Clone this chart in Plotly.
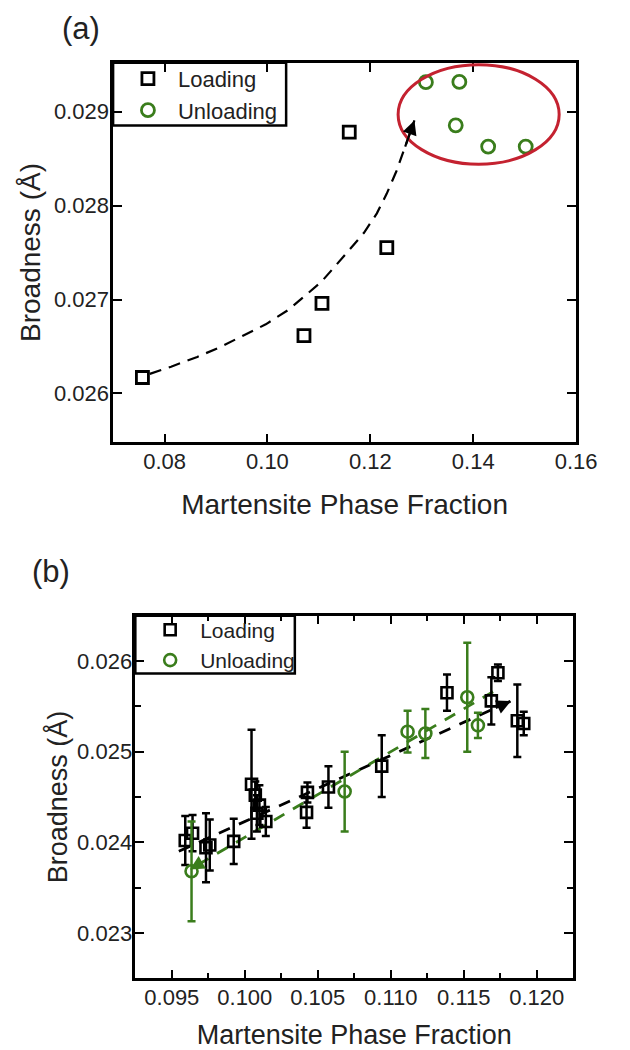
import plotly.graph_objects as go

GREEN = "#3a7d1c"
RED = "#c42230"
FONT = "Liberation Sans, Arial, sans-serif"
W, H = 630, 1050

# ---------------- panel (a) data ----------------
a_load_x = [0.0757, 0.1071, 0.1106, 0.1159, 0.1232]
a_load_y = [0.02617, 0.026615, 0.026958, 0.028781, 0.027552]
a_unload_x = [0.1308, 0.1373, 0.1366, 0.1429, 0.1502]
a_unload_y = [0.029313, 0.029316, 0.028854, 0.028628, 0.028628]
a_fit_x = [0.07714, 0.08127, 0.08635, 0.09079, 0.09524, 0.09968, 0.10413, 0.10794,
           0.11048, 0.11492, 0.11873, 0.12127, 0.12317, 0.12508, 0.12667, 0.12794, 0.12857]
a_fit_y = [0.026208, 0.026285, 0.026389, 0.026493, 0.026615, 0.026736, 0.026892, 0.027066,
           0.027188, 0.027465, 0.027708, 0.027917, 0.028125, 0.028368, 0.028611, 0.028819, 0.028906]
a_ellipse_x = [0.1254, 0.1567]
a_ellipse_y = [0.02844, 0.02950]

# ---------------- panel (b) data ----------------
b_load_x = [0.09592, 0.09642, 0.09734, 0.09760, 0.09924, 0.10046, 0.10072, 0.10100, 0.10083,
            0.10144, 0.10429, 0.10423, 0.10573, 0.10938, 0.11385, 0.11734, 0.11689, 0.11867, 0.11911]
b_load_y = [0.02402, 0.02410, 0.02394, 0.02397, 0.02401, 0.02464, 0.02452, 0.02441, 0.02432,
            0.02423, 0.02455, 0.02433, 0.02461, 0.02484, 0.02565, 0.02587, 0.02556, 0.02534, 0.02531]
b_load_err = [0.00027, 0.00020, 0.00038, 0.00028, 0.00025, 0.00060, 0.00015, 0.00022, 0.00020,
              0.00016, 0.00011, 0.00017, 0.00023, 0.00034, 0.00020, 0.00009, 0.00026, 0.00040, 0.00013]
b_unload_x = [0.09635, 0.10684, 0.11115, 0.11237, 0.11524, 0.11597]
b_unload_y = [0.02368, 0.02456, 0.02522, 0.02520, 0.02560, 0.02529]
b_unload_err = [0.00055, 0.00044, 0.00023, 0.00027, 0.00060, 0.00014]
b_load_fit_x = [0.09548, 0.11823]
b_load_fit_y = [0.02390, 0.025558]
b_unload_fit_x = [0.11701, 0.09624]
b_unload_fit_y = [0.025661, 0.02370]


def head(xs, ys, xref, yref, color, back=2, frac=0.05):
    """Arrow head at the last point of a line, pointing along the line's end."""
    tx = xs[-1] - (xs[-1] - xs[-back]) * frac
    ty = ys[-1] - (ys[-1] - ys[-back]) * frac
    return dict(x=xs[-1], y=ys[-1], ax=tx, ay=ty, xref=xref, yref=yref,
                axref=xref, ayref=yref, text="", showarrow=True, arrowhead=2,
                arrowsize=1.3, arrowwidth=2.2, arrowcolor=color, standoff=0)


fig = go.Figure()

# panel (a)
fig.add_trace(go.Scatter(x=a_fit_x, y=a_fit_y, mode="lines", showlegend=False,
                         line=dict(color="black", width=2.2, dash="12px,8px"),
                         xaxis="x", yaxis="y", hoverinfo="skip"))
fig.add_trace(go.Scatter(x=a_load_x, y=a_load_y, mode="markers", name="Loading",
                         marker=dict(symbol="square-open", size=12, color="black",
                                     line=dict(width=2.8, color="black")),
                         xaxis="x", yaxis="y", legend="legend"))
fig.add_trace(go.Scatter(x=a_unload_x, y=a_unload_y, mode="markers", name="Unloading",
                         marker=dict(symbol="circle-open", size=13, color=GREEN,
                                     line=dict(width=2.8, color=GREEN)),
                         xaxis="x", yaxis="y", legend="legend"))

# panel (b)
fig.add_trace(go.Scatter(x=b_load_fit_x, y=b_load_fit_y, mode="lines", showlegend=False,
                         line=dict(color="black", width=2.8, dash="12px,10px"),
                         xaxis="x2", yaxis="y2", hoverinfo="skip"))
fig.add_trace(go.Scatter(x=b_unload_fit_x, y=b_unload_fit_y, mode="lines", showlegend=False,
                         line=dict(color=GREEN, width=2.8, dash="12px,10px"),
                         xaxis="x2", yaxis="y2", hoverinfo="skip"))
fig.add_trace(go.Scatter(x=b_load_x, y=b_load_y, mode="markers", name="Loading",
                         error_y=dict(type="data", array=b_load_err, color="black",
                                      thickness=2.5, width=4),
                         marker=dict(symbol="square-open", size=11, color="black",
                                     line=dict(width=2.6, color="black")),
                         xaxis="x2", yaxis="y2", legend="legend2"))
fig.add_trace(go.Scatter(x=b_unload_x, y=b_unload_y, mode="markers", name="Unloading",
                         error_y=dict(type="data", array=b_unload_err, color=GREEN,
                                      thickness=2.5, width=4),
                         marker=dict(symbol="circle-open", size=12, color=GREEN,
                                     line=dict(width=2.6, color=GREEN)),
                         xaxis="x2", yaxis="y2", legend="legend2"))

axis_common = dict(showline=True, linecolor="black", linewidth=2.5, mirror="allticks",
                   ticks="inside", ticklen=9, tickwidth=2.2, tickcolor="black",
                   showgrid=False, zeroline=False,
                   tickfont=dict(family=FONT, size=22, color="#222"))


def px(xp):
    return xp / W


def py(yp):
    return 1 - yp / H


fig.update_layout(
    width=W, height=H, autosize=False,
    margin=dict(l=0, r=0, t=0, b=0),
    paper_bgcolor="white", plot_bgcolor="white",
    font=dict(family=FONT, color="#222"),
    xaxis=dict(domain=[px(117), px(596)], range=[0.07, 0.16], dtick=0.02, tickformat=".2f",
               title=dict(text="Martensite Phase Fraction", font=dict(size=28), standoff=21),
               ticklabelstandoff=-2, anchor="y", **axis_common),
    yaxis=dict(domain=[py(444), py(63)], range=[0.02548, 0.02952], dtick=0.001, tickformat=".3f",
               title=dict(text="Broadness (Å)", font=dict(size=28), standoff=6),
               ticklabelstandoff=-3, anchor="x", **axis_common),
    xaxis2=dict(domain=[px(140), px(593)], range=[0.0925, 0.1225], dtick=0.005, tickformat=".3f",
                title=dict(text="Martensite Phase Fraction", font=dict(size=27), standoff=21),
                minor=dict(ticks="inside", ticklen=6, tickwidth=2.2, tickcolor="black", dtick=0.0025),
                ticklabelstandoff=-2, anchor="y2", **axis_common),
    yaxis2=dict(domain=[py(982), py(618)], range=[0.0225, 0.0265], dtick=0.001, tickformat=".3f",
                title=dict(text="Broadness (Å)", font=dict(size=27), standoff=2),
                minor=dict(ticks="inside", ticklen=6, tickwidth=2.2, tickcolor="black", dtick=0.0005),
                ticklabelstandoff=-4, anchor="x2", **axis_common),
    legend=dict(x=px(122), y=py(58), xanchor="left", yanchor="top", bgcolor="rgba(0,0,0,0)",
                borderwidth=0, font=dict(size=22, family=FONT, color="#222"),
                itemwidth=50),
    legend2=dict(x=px(145), y=py(612), xanchor="left", yanchor="top", bgcolor="rgba(0,0,0,0)",
                 borderwidth=0, font=dict(size=21, family=FONT, color="#222"),
                 itemwidth=50),
    shapes=[
        dict(type="circle", xref="x", yref="y",
             x0=a_ellipse_x[0], x1=a_ellipse_x[1], y0=a_ellipse_y[0], y1=a_ellipse_y[1],
             line=dict(color=RED, width=3)),
        dict(type="rect", xref="paper", yref="paper", x0=px(117), x1=px(296),
             y0=py(126), y1=py(63), line=dict(color="black", width=2.5), fillcolor="white",
             layer="below"),
        dict(type="rect", xref="paper", yref="paper", x0=px(140), x1=px(305),
             y0=py(676), y1=py(618), line=dict(color="black", width=2.5), fillcolor="white",
             layer="below"),
    ],
    annotations=[
        dict(text="(a)", x=px(84), y=py(29), xref="paper", yref="paper", xanchor="center",
             yanchor="middle", showarrow=False, font=dict(size=31, family=FONT, color="#222")),
        dict(text="(b)", x=px(53), y=py(574), xref="paper", yref="paper", xanchor="center",
             yanchor="middle", showarrow=False, font=dict(size=31, family=FONT, color="#222")),
        head(a_fit_x, a_fit_y, "x", "y", "black", back=3, frac=1.0),
        head(b_load_fit_x, b_load_fit_y, "x2", "y2", "black"),
        head(b_unload_fit_x, b_unload_fit_y, "x2", "y2", GREEN),
    ],
)

fig.write_html("out.html")
